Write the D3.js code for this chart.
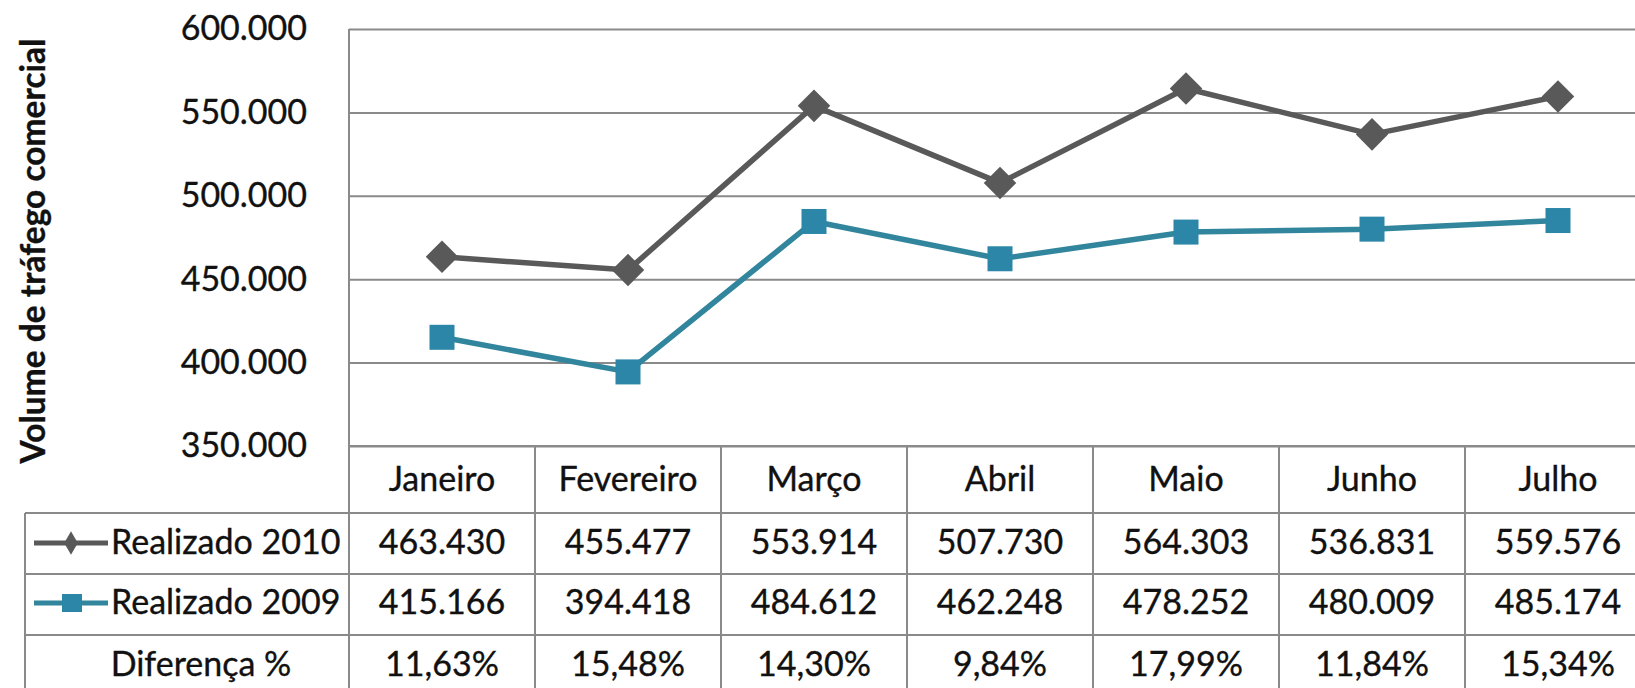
<!DOCTYPE html>
<html>
<head>
<meta charset="utf-8">
<script src="https://cdn.jsdelivr.net/npm/d3@7"></script>
<style>
  body { margin: 0; background: #fff; }
  text { font-family: Lato, "Open Sans", sans-serif; fill: #111; stroke: #111; stroke-width: 0.35px; }
</style>
</head>
<body>
<div id="grafico"></div>
<script>
var width = 1635;
var height = 688;

// dados
var meses = ["Janeiro", "Fevereiro", "Março", "Abril", "Maio", "Junho", "Julho"];
var realizado2010 = [463430, 455477, 553914, 507730, 564303, 536831, 559576];
var realizado2009 = [415166, 394418, 484612, 462248, 478252, 480009, 485174];
var diferenca = [11.63, 15.48, 14.30, 9.84, 17.99, 11.84, 15.34];
var ticksY = [350000, 400000, 450000, 500000, 550000, 600000];
var series = ["Realizado 2010", "Realizado 2009"];

var ptBR = d3.formatLocale({decimal: ",", thousands: ".", grouping: [3], currency: ["R$", ""]});
var fmtNum = ptBR.format(",.0f");
var fmtPct = function(v) { return ptBR.format(".2f")(v) + "%"; };

var esq = 349, topo = 29, base = 446;
var larguraCol = 186;
var tamFonte = 34;

var x = d3.scaleBand().domain(meses).range([esq, esq + larguraCol * meses.length]);
var y = d3.scaleLinear().domain([350000, 600000]).range([base, topo]);

var linhasTabela = [446, 513, 574, 635, 696];

var svg = d3.select("#grafico")
			.append("svg")
			.attr("width", width)
			.attr("height", height);

var corGrade = "#8a8a8a";

// grade horizontal
var eixoY = svg.append("g")
	.attr("transform", "translate(" + esq + ",0)")
	.call(d3.axisLeft(y).tickValues(ticksY).tickSize(-(width - esq)).tickFormat(fmtNum).tickPadding(42));

eixoY.select(".domain").remove();
eixoY.selectAll(".tick line").attr("stroke", corGrade).attr("stroke-width", 2);
eixoY.selectAll(".tick text")
	.attr("font-size", tamFonte)
	.attr("fill", "#111")
	.attr("font-family", "Lato, sans-serif");

// eixo vertical
svg.append("line")
	.attr("x1", esq).attr("x2", esq)
	.attr("y1", topo).attr("y2", height)
	.attr("stroke", corGrade).attr("stroke-width", 2);

// titulo eixo Y
svg.append("text")
	.attr("transform", "translate(45," + 251 + ") rotate(-90)")
	.attr("text-anchor", "middle")
	.attr("font-size", 33.5)
	.attr("font-weight", "bold")
	.text("Volume de tráfego comercial");

// tabela
var tabela = svg.append("g");

linhasTabela.forEach(function(ly, i) {
	tabela.append("line")
		.attr("x1", i == 0 ? esq : 25).attr("x2", width)
		.attr("y1", ly).attr("y2", ly)
		.attr("stroke", corGrade).attr("stroke-width", 2);
});

tabela.append("line")
	.attr("x1", 25).attr("x2", 25)
	.attr("y1", linhasTabela[1]).attr("y2", height)
	.attr("stroke", corGrade).attr("stroke-width", 2);

meses.forEach(function(m) {
	tabela.append("line")
		.attr("x1", x(m) + larguraCol).attr("x2", x(m) + larguraCol)
		.attr("y1", base).attr("y2", height)
		.attr("stroke", corGrade).attr("stroke-width", 2);
});

var celulas = [
	{ y: 491, vals: meses },
	{ y: 554, vals: realizado2010.map(fmtNum) },
	{ y: 614, vals: realizado2009.map(fmtNum) },
	{ y: 676, vals: diferenca.map(fmtPct) }
];

celulas.forEach(function(linha) {
	tabela.selectAll(null)
		.data(linha.vals)
		.enter().append("text")
		.attr("x", function(d, i) { return x(meses[i]) + x.bandwidth() / 2; })
		.attr("y", linha.y)
		.attr("text-anchor", "middle")
		.attr("font-size", tamFonte)
		.text(function(d) { return d; });
});

// legenda
var cor2010 = "#595959";
var cor2009 = "#31859c";
var marcador2009 = "#2b86a7";

var leg = svg.append("g");
leg.append("line").attr("x1", 34).attr("x2", 108).attr("y1", 543).attr("y2", 543)
	.attr("stroke", cor2010).attr("stroke-width", 5);
leg.append("path").attr("d", d3.symbol().type(d3.symbolDiamond).size(160)())
	.attr("transform", "translate(71,543)").attr("fill", cor2010);
leg.append("line").attr("x1", 34).attr("x2", 108).attr("y1", 603).attr("y2", 603)
	.attr("stroke", cor2009).attr("stroke-width", 5);
leg.append("rect").attr("x", 62).attr("y", 594).attr("width", 20).attr("height", 18)
	.attr("fill", marcador2009);

leg.append("text").attr("x", 111).attr("y", 554).attr("font-size", tamFonte).text(series[0]);
leg.append("text").attr("x", 111).attr("y", 614).attr("font-size", tamFonte).text(series[1]);
leg.append("text").attr("x", 201).attr("y", 676).attr("font-size", tamFonte)
	.attr("text-anchor", "middle").text("Diferença %");

// linhas
var linha = d3.line()
	.x(function(d, i) { return x(meses[i]) + x.bandwidth() / 2; })
	.y(function(d) { return y(d); });

svg.append("path")
	.datum(realizado2010)
	.attr("d", linha)
	.attr("fill", "none")
	.attr("stroke", cor2010)
	.attr("stroke-width", 5.5)
	.attr("stroke-linejoin", "round");

svg.append("path")
	.datum(realizado2009)
	.attr("d", linha)
	.attr("fill", "none")
	.attr("stroke", cor2009)
	.attr("stroke-width", 5.5)
	.attr("stroke-linejoin", "round");

svg.selectAll(".m2010")
	.data(realizado2010)
	.enter().append("rect")
	.attr("class", "m2010")
	.attr("x", -11.5).attr("y", -11.5)
	.attr("width", 23).attr("height", 23)
	.attr("transform", function(d, i) {
		return "translate(" + (x(meses[i]) + x.bandwidth() / 2) + "," + y(d) + ") rotate(45)";
	})
	.attr("fill", cor2010);

svg.selectAll(".m2009")
	.data(realizado2009)
	.enter().append("rect")
	.attr("class", "m2009")
	.attr("x", function(d, i) { return x(meses[i]) + x.bandwidth() / 2 - 12.5; })
	.attr("y", function(d) { return y(d) - 12.5; })
	.attr("width", 25).attr("height", 25)
	.attr("fill", marcador2009);
</script>
</body>
</html>
